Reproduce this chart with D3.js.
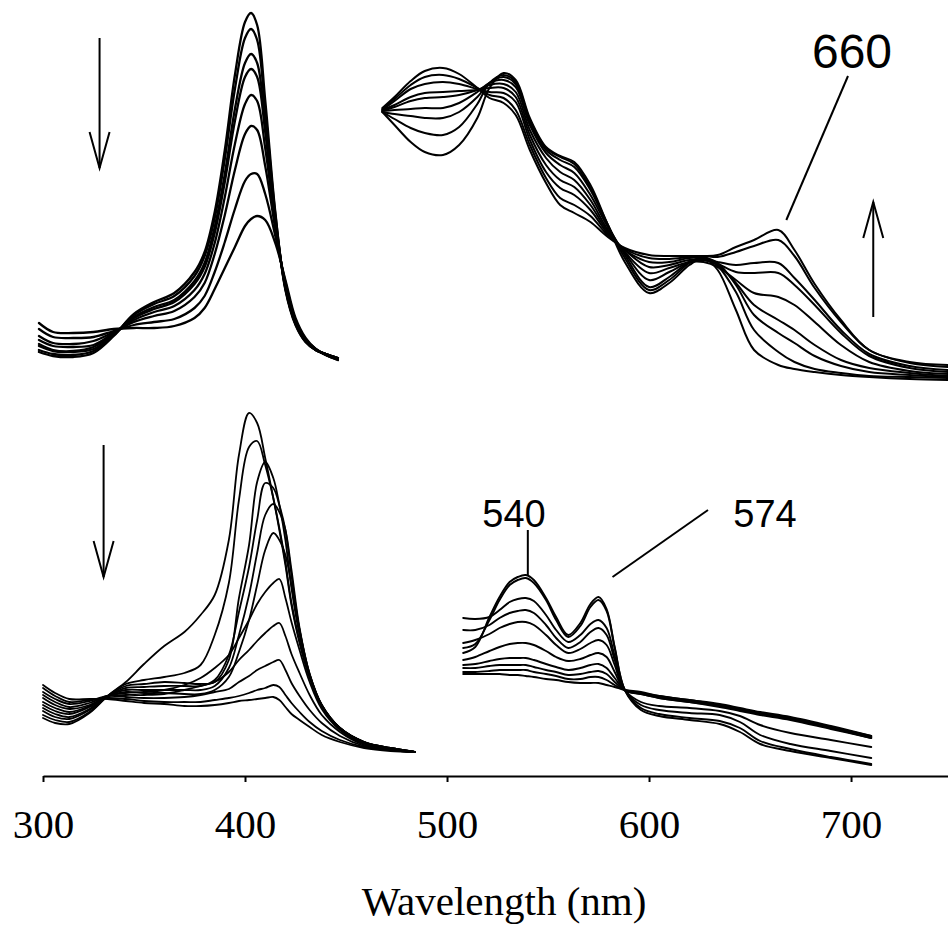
<!DOCTYPE html>
<html>
<head>
<meta charset="utf-8">
<script src="https://cdn.jsdelivr.net/npm/d3@7/dist/d3.min.js"></script>
<style>
  html, body { margin: 0; padding: 0; background: #fff; }
  svg { display: block; }
</style>
</head>
<body>
<svg id="chart" width="948" height="937"></svg>
<script>
// Wavelength axis ticks
const axisTicks = [300, 400, 500, 600, 700];

// Upper Soret region: spectra recorded during the first reaction
const tlWavelengths = [298, 305, 315, 325, 335, 345, 355, 365, 375, 380, 385, 390, 395, 400, 403, 406, 410, 415, 420, 425, 430, 435, 440, 446];
const tlSpectra = [
  [0.028, 0.024, 0.023, 0.027, 0.044, 0.066, 0.078, 0.087, 0.108, 0.128, 0.168, 0.230, 0.305, 0.358, 0.367, 0.355, 0.280, 0.168, 0.090, 0.055, 0.038, 0.030, 0.026, 0.022],
  [0.030, 0.026, 0.025, 0.029, 0.045, 0.065, 0.076, 0.084, 0.104, 0.124, 0.162, 0.221, 0.291, 0.342, 0.351, 0.340, 0.270, 0.166, 0.091, 0.056, 0.038, 0.030, 0.026, 0.022],
  [0.034, 0.029, 0.028, 0.031, 0.045, 0.063, 0.073, 0.080, 0.099, 0.117, 0.153, 0.206, 0.271, 0.317, 0.326, 0.317, 0.256, 0.162, 0.092, 0.056, 0.039, 0.030, 0.026, 0.022],
  [0.036, 0.030, 0.029, 0.033, 0.046, 0.062, 0.071, 0.078, 0.096, 0.113, 0.147, 0.198, 0.259, 0.303, 0.311, 0.303, 0.248, 0.160, 0.093, 0.057, 0.039, 0.030, 0.026, 0.021],
  [0.040, 0.034, 0.033, 0.035, 0.047, 0.060, 0.068, 0.074, 0.090, 0.106, 0.137, 0.183, 0.236, 0.276, 0.285, 0.279, 0.232, 0.156, 0.094, 0.058, 0.040, 0.030, 0.026, 0.021],
  [0.044, 0.037, 0.036, 0.039, 0.048, 0.058, 0.064, 0.069, 0.083, 0.097, 0.126, 0.165, 0.210, 0.246, 0.254, 0.250, 0.214, 0.151, 0.096, 0.059, 0.040, 0.031, 0.025, 0.021],
  [0.051, 0.043, 0.042, 0.043, 0.049, 0.055, 0.058, 0.061, 0.072, 0.084, 0.108, 0.138, 0.171, 0.199, 0.206, 0.206, 0.186, 0.144, 0.098, 0.060, 0.041, 0.031, 0.025, 0.020],
  [0.057, 0.048, 0.047, 0.048, 0.051, 0.052, 0.052, 0.054, 0.062, 0.072, 0.091, 0.112, 0.133, 0.154, 0.161, 0.164, 0.160, 0.137, 0.100, 0.062, 0.042, 0.031, 0.025, 0.020]
];

// Upper Q-band region (expanded), same reaction
const trWavelengths = [468, 474, 482, 489, 498, 506, 515, 521, 528, 534, 541, 549, 556, 563, 571, 579, 588, 600, 610, 620, 627, 634, 643, 652, 664, 672, 682, 695, 709, 729, 748];
const trSpectra = [
  [0.288, 0.275, 0.258, 0.248, 0.245, 0.255, 0.282, 0.312, 0.327, 0.320, 0.282, 0.253, 0.244, 0.238, 0.215, 0.178, 0.138, 0.107, 0.117, 0.135, 0.142, 0.130, 0.090, 0.050, 0.035, 0.031, 0.028, 0.025, 0.023, 0.021, 0.020],
  [0.288, 0.281, 0.272, 0.267, 0.265, 0.273, 0.296, 0.317, 0.325, 0.318, 0.280, 0.252, 0.243, 0.236, 0.212, 0.178, 0.142, 0.110, 0.120, 0.137, 0.143, 0.134, 0.108, 0.070, 0.048, 0.038, 0.031, 0.027, 0.024, 0.023, 0.022],
  [0.288, 0.286, 0.284, 0.282, 0.282, 0.288, 0.303, 0.317, 0.323, 0.316, 0.278, 0.250, 0.240, 0.233, 0.210, 0.177, 0.145, 0.113, 0.123, 0.138, 0.142, 0.137, 0.115, 0.085, 0.067, 0.057, 0.044, 0.034, 0.028, 0.025, 0.023],
  [0.289, 0.290, 0.291, 0.292, 0.292, 0.297, 0.308, 0.317, 0.320, 0.313, 0.275, 0.247, 0.235, 0.227, 0.205, 0.175, 0.147, 0.120, 0.128, 0.138, 0.140, 0.135, 0.117, 0.095, 0.080, 0.070, 0.055, 0.040, 0.032, 0.027, 0.024],
  [0.289, 0.293, 0.299, 0.302, 0.303, 0.305, 0.310, 0.315, 0.316, 0.308, 0.270, 0.242, 0.228, 0.220, 0.200, 0.172, 0.148, 0.127, 0.132, 0.138, 0.138, 0.133, 0.120, 0.107, 0.103, 0.095, 0.078, 0.055, 0.038, 0.029, 0.026],
  [0.290, 0.295, 0.303, 0.307, 0.308, 0.309, 0.310, 0.312, 0.312, 0.303, 0.265, 0.235, 0.220, 0.213, 0.195, 0.170, 0.150, 0.133, 0.135, 0.140, 0.140, 0.136, 0.128, 0.127, 0.127, 0.115, 0.095, 0.067, 0.044, 0.032, 0.028],
  [0.290, 0.299, 0.311, 0.316, 0.318, 0.316, 0.311, 0.308, 0.307, 0.298, 0.260, 0.228, 0.212, 0.205, 0.190, 0.168, 0.150, 0.138, 0.138, 0.142, 0.142, 0.138, 0.135, 0.137, 0.137, 0.122, 0.100, 0.070, 0.046, 0.034, 0.030],
  [0.291, 0.301, 0.315, 0.323, 0.325, 0.321, 0.312, 0.305, 0.302, 0.290, 0.255, 0.222, 0.202, 0.195, 0.184, 0.166, 0.151, 0.142, 0.141, 0.143, 0.144, 0.143, 0.148, 0.154, 0.160, 0.144, 0.112, 0.078, 0.050, 0.037, 0.033],
  [0.292, 0.303, 0.319, 0.329, 0.332, 0.326, 0.312, 0.302, 0.297, 0.285, 0.250, 0.217, 0.195, 0.187, 0.178, 0.164, 0.152, 0.145, 0.144, 0.144, 0.144, 0.145, 0.153, 0.160, 0.170, 0.150, 0.116, 0.080, 0.050, 0.038, 0.035]
];

// Lower Soret region: spectra recorded during the second reaction
const blWavelengths = [300, 306, 313, 323, 332, 341, 350, 360, 370, 378, 385, 392, 397, 402, 406, 410, 414, 417, 420, 423, 427, 432, 438, 447, 459, 472, 484];
const blSpectra = [
  [0.052, 0.047, 0.046, 0.057, 0.074, 0.088, 0.106, 0.124, 0.138, 0.155, 0.175, 0.230, 0.315, 0.357, 0.347, 0.312, 0.272, 0.240, 0.205, 0.165, 0.127, 0.092, 0.064, 0.042, 0.028, 0.022, 0.018],
  [0.055, 0.050, 0.048, 0.058, 0.074, 0.086, 0.090, 0.093, 0.097, 0.105, 0.135, 0.187, 0.270, 0.323, 0.329, 0.305, 0.272, 0.242, 0.208, 0.167, 0.129, 0.093, 0.064, 0.042, 0.028, 0.022, 0.018],
  [0.059, 0.053, 0.051, 0.060, 0.074, 0.084, 0.086, 0.088, 0.087, 0.086, 0.088, 0.110, 0.172, 0.225, 0.288, 0.308, 0.292, 0.265, 0.230, 0.182, 0.135, 0.095, 0.065, 0.042, 0.028, 0.022, 0.018],
  [0.062, 0.056, 0.053, 0.061, 0.074, 0.082, 0.083, 0.084, 0.084, 0.084, 0.090, 0.115, 0.158, 0.203, 0.250, 0.287, 0.282, 0.265, 0.240, 0.195, 0.140, 0.096, 0.065, 0.042, 0.028, 0.022, 0.018],
  [0.065, 0.059, 0.056, 0.063, 0.074, 0.080, 0.080, 0.080, 0.080, 0.080, 0.084, 0.102, 0.135, 0.175, 0.217, 0.255, 0.266, 0.258, 0.240, 0.200, 0.142, 0.096, 0.065, 0.042, 0.027, 0.021, 0.018],
  [0.068, 0.062, 0.058, 0.064, 0.074, 0.078, 0.077, 0.077, 0.076, 0.076, 0.080, 0.093, 0.118, 0.150, 0.185, 0.220, 0.237, 0.230, 0.215, 0.185, 0.140, 0.095, 0.064, 0.041, 0.027, 0.021, 0.018],
  [0.072, 0.065, 0.061, 0.065, 0.074, 0.077, 0.078, 0.080, 0.085, 0.092, 0.102, 0.115, 0.132, 0.150, 0.166, 0.178, 0.187, 0.191, 0.172, 0.148, 0.120, 0.088, 0.061, 0.040, 0.026, 0.021, 0.018],
  [0.075, 0.068, 0.063, 0.067, 0.074, 0.075, 0.075, 0.076, 0.080, 0.084, 0.088, 0.098, 0.110, 0.120, 0.129, 0.137, 0.144, 0.147, 0.134, 0.116, 0.097, 0.075, 0.055, 0.038, 0.025, 0.020, 0.018],
  [0.078, 0.071, 0.066, 0.069, 0.074, 0.073, 0.072, 0.072, 0.073, 0.075, 0.078, 0.081, 0.088, 0.094, 0.100, 0.104, 0.108, 0.110, 0.100, 0.087, 0.074, 0.060, 0.047, 0.034, 0.024, 0.020, 0.018],
  [0.082, 0.074, 0.068, 0.070, 0.072, 0.071, 0.069, 0.068, 0.068, 0.068, 0.070, 0.072, 0.074, 0.077, 0.080, 0.082, 0.085, 0.083, 0.075, 0.067, 0.058, 0.048, 0.039, 0.030, 0.023, 0.020, 0.018],
  [0.085, 0.077, 0.071, 0.071, 0.071, 0.069, 0.067, 0.066, 0.064, 0.064, 0.065, 0.067, 0.069, 0.070, 0.071, 0.072, 0.073, 0.070, 0.063, 0.056, 0.050, 0.043, 0.035, 0.028, 0.022, 0.019, 0.018]
];

// Lower Q-band region (expanded), same reaction
const brWavelengths = [508, 514, 521, 526, 531, 535, 539, 543, 549, 554, 560, 566, 571, 575, 579, 583, 588, 596, 605, 620, 635, 645, 655, 670, 690, 710];
const brSpectra = [
  [0.106, 0.106, 0.106, 0.106, 0.105, 0.105, 0.104, 0.103, 0.101, 0.100, 0.098, 0.097, 0.097, 0.097, 0.095, 0.093, 0.090, 0.088, 0.084, 0.080, 0.076, 0.072, 0.068, 0.063, 0.054, 0.044],
  [0.108, 0.108, 0.109, 0.110, 0.110, 0.110, 0.110, 0.108, 0.106, 0.104, 0.101, 0.101, 0.103, 0.103, 0.100, 0.095, 0.090, 0.087, 0.084, 0.080, 0.075, 0.071, 0.067, 0.062, 0.053, 0.044],
  [0.112, 0.112, 0.114, 0.115, 0.115, 0.115, 0.115, 0.113, 0.110, 0.108, 0.105, 0.106, 0.108, 0.109, 0.106, 0.098, 0.090, 0.087, 0.083, 0.079, 0.075, 0.071, 0.067, 0.062, 0.053, 0.043],
  [0.115, 0.116, 0.119, 0.121, 0.122, 0.122, 0.122, 0.120, 0.116, 0.113, 0.110, 0.112, 0.115, 0.116, 0.112, 0.102, 0.090, 0.087, 0.083, 0.079, 0.074, 0.070, 0.066, 0.061, 0.052, 0.043],
  [0.120, 0.123, 0.129, 0.133, 0.136, 0.137, 0.137, 0.135, 0.129, 0.123, 0.119, 0.121, 0.125, 0.127, 0.123, 0.108, 0.090, 0.086, 0.082, 0.078, 0.074, 0.070, 0.066, 0.061, 0.052, 0.042],
  [0.137, 0.140, 0.146, 0.152, 0.156, 0.158, 0.158, 0.155, 0.145, 0.135, 0.127, 0.131, 0.137, 0.140, 0.135, 0.115, 0.090, 0.086, 0.082, 0.078, 0.073, 0.069, 0.065, 0.060, 0.051, 0.042],
  [0.150, 0.150, 0.155, 0.162, 0.167, 0.169, 0.170, 0.167, 0.155, 0.142, 0.132, 0.138, 0.148, 0.152, 0.145, 0.120, 0.090, 0.078, 0.074, 0.072, 0.069, 0.064, 0.055, 0.047, 0.040, 0.033],
  [0.162, 0.161, 0.163, 0.170, 0.178, 0.181, 0.182, 0.179, 0.165, 0.150, 0.138, 0.145, 0.156, 0.160, 0.152, 0.124, 0.090, 0.075, 0.070, 0.067, 0.065, 0.058, 0.045, 0.036, 0.029, 0.022],
  [0.132, 0.136, 0.160, 0.180, 0.195, 0.200, 0.202, 0.197, 0.180, 0.160, 0.143, 0.154, 0.173, 0.180, 0.169, 0.132, 0.090, 0.072, 0.066, 0.062, 0.059, 0.052, 0.039, 0.031, 0.023, 0.016],
  [0.127, 0.133, 0.163, 0.183, 0.198, 0.203, 0.205, 0.200, 0.182, 0.163, 0.145, 0.157, 0.176, 0.183, 0.171, 0.133, 0.090, 0.070, 0.064, 0.060, 0.056, 0.048, 0.036, 0.029, 0.022, 0.015]
];

// Peak annotations: label text and the wavelength each one points at
const peakLabels = ["660", "540", "574"];
const peakWavelengths = [664, 540, 575];

const svg = d3.select("#chart");
svg.append("rect").attr("width", 948).attr("height", 937).attr("fill", "#fff");

// One wavelength scale shared by all four spectral blocks
const x = d3.scaleLinear().domain([300, 748]).range([43, 948]);

// Each block has its own vertical placement
const panels = [
  { wl: tlWavelengths, spectra: tlSpectra, base: 380, stroke: 2.3 },
  { wl: trWavelengths, spectra: trSpectra, base: 400, stroke: 2.0 },
  { wl: blWavelengths, spectra: blSpectra, base: 770, stroke: 1.8 },
  { wl: brWavelengths, spectra: brSpectra, base: 780, stroke: 1.9 }
];

panels.forEach(p => {
  const y = d3.scaleLinear().domain([0, 0.4]).range([p.base, p.base - 400]);
  const line = d3.line()
    .x(d => x(d[0]))
    .y(d => y(d[1]))
    .curve(d3.curveCatmullRom.alpha(0.5));
  svg.append("g")
    .selectAll("path")
    .data(p.spectra)
    .join("path")
    .attr("d", s => line(s.map((v, i) => [p.wl[i], v])))
    .attr("fill", "none")
    .attr("stroke", "#000")
    .attr("stroke-width", p.stroke)
    .attr("stroke-linejoin", "round")
    .attr("stroke-linecap", "round");
});

// Wavelength axis
const axis = d3.axisBottom(x)
  .tickValues(axisTicks)
  .tickSizeInner(6)
  .tickSizeOuter(0)
  .tickPadding(27)
  .tickFormat(d3.format("d"));

const gAxis = svg.append("g")
  .attr("transform", "translate(0,776)")
  .call(axis);
gAxis.select(".domain").attr("stroke", "#000").attr("stroke-width", 2);
gAxis.selectAll(".tick line").attr("stroke", "#000").attr("stroke-width", 2);
gAxis.selectAll(".tick text")
  .attr("fill", "#000")
  .style("font-family", "'Liberation Serif', 'Times New Roman', serif")
  .style("font-size", "41px");

svg.append("text")
  .attr("x", 504)
  .attr("y", 915)
  .attr("text-anchor", "middle")
  .style("font-family", "'Liberation Serif', 'Times New Roman', serif")
  .style("font-size", "41px")
  .text("Wavelength (nm)");

// Direction-of-change arrows (open heads)
function arrow(wl, yFrom, yTo) {
  const ax = x(wl);
  const dir = yTo > yFrom ? -1 : 1;
  const g = svg.append("g").attr("stroke", "#000").attr("stroke-width", 2).attr("fill", "none");
  g.append("line").attr("x1", ax).attr("y1", yFrom).attr("x2", ax).attr("y2", yTo);
  g.append("path").attr("d",
    `M${ax - 10},${yTo + dir * 36} L${ax},${yTo} L${ax + 10},${yTo + dir * 36}`);
}
arrow(328, 38, 168);
arrow(330, 445, 577);
arrow(711, 317, 202);

// Peak labels with leader lines
const labelFont = "'Liberation Sans', Arial, Helvetica, sans-serif";
const leaders = svg.append("g").attr("stroke", "#000").attr("stroke-width", 2);

svg.append("text").attr("x", 852).attr("y", 68).attr("text-anchor", "middle")
  .style("font-family", labelFont).style("font-size", "48px").text(peakLabels[0]);
leaders.append("line").attr("x1", 848).attr("y1", 76).attr("x2", x(peakWavelengths[0]) + 8).attr("y2", 220);

svg.append("text").attr("x", 514).attr("y", 527).attr("text-anchor", "middle")
  .style("font-family", labelFont).style("font-size", "38px").text(peakLabels[1]);
leaders.append("line").attr("x1", x(peakWavelengths[1])).attr("y1", 530).attr("x2", x(peakWavelengths[1])).attr("y2", 575);

svg.append("text").attr("x", 765).attr("y", 527).attr("text-anchor", "middle")
  .style("font-family", labelFont).style("font-size", "38px").text(peakLabels[2]);
leaders.append("line").attr("x1", 708).attr("y1", 510).attr("x2", x(peakWavelengths[2]) + 14).attr("y2", 577);
</script>
</body>
</html>
